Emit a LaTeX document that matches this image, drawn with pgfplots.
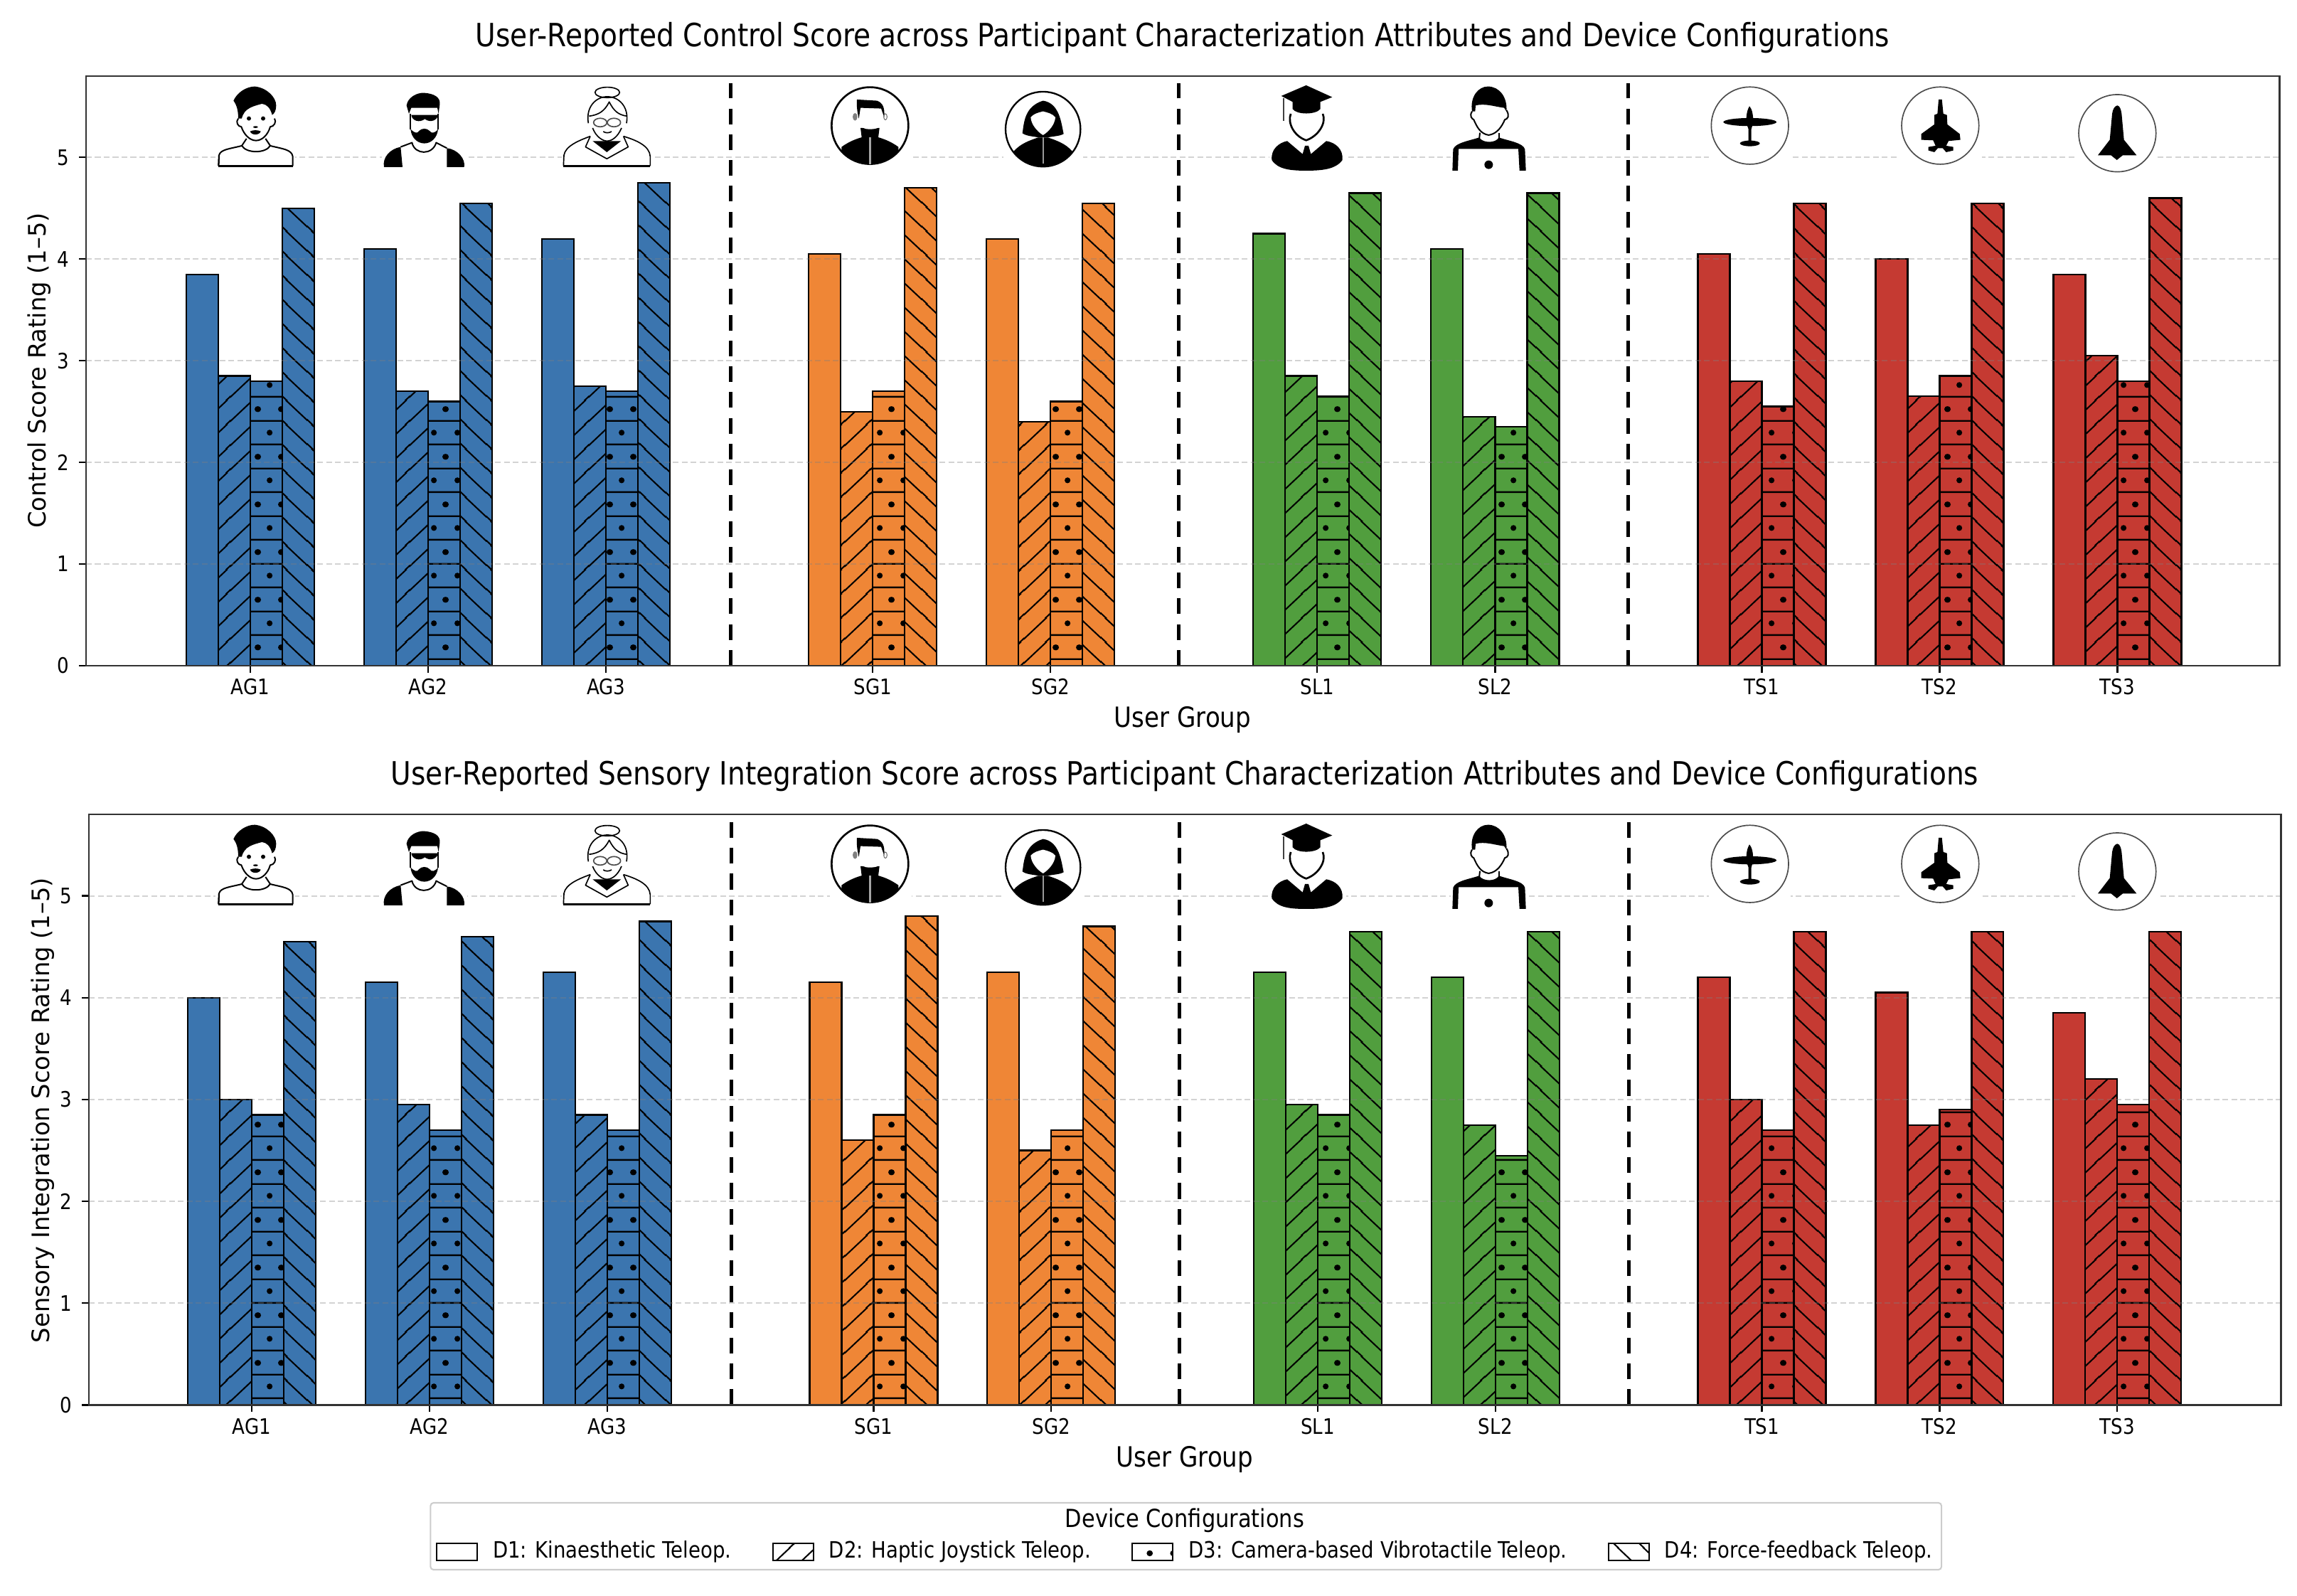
\documentclass[border=0pt]{standalone}
\usepackage{fontspec}
\usepackage{pgfplots}
\usepackage{pgfplotstable}
\pgfplotsset{compat=1.18}
\usetikzlibrary{patterns}
\setmainfont{DejaVu Sans}[FakeStretch=0.87]
\newfontfamily\yfont{DejaVu Sans}

% one picture pixel of the reference is 0.24pt
\definecolor{cblue}{HTML}{3B75AF}
\definecolor{corange}{HTML}{EF8636}
\definecolor{cgreen}{HTML}{519E3E}
\definecolor{cred}{HTML}{C53A32}

% hatches
\pgfdeclarepatternformonly{hd2}{\pgfpointorigin}{\pgfqpoint{8.64pt}{8.04pt}}{\pgfqpoint{8.64pt}{8.04pt}}{
  \pgfsetlinewidth{0.5pt}
  \pgfpathmoveto{\pgfqpoint{-1pt}{0.222pt}}\pgfpathlineto{\pgfqpoint{9.64pt}{10.122pt}}
  \pgfpathmoveto{\pgfqpoint{-1pt}{-7.818pt}}\pgfpathlineto{\pgfqpoint{9.64pt}{2.082pt}}
  \pgfusepath{stroke}}
\pgfdeclarepatternformonly{hd4}{\pgfpointorigin}{\pgfqpoint{8.64pt}{8.04pt}}{\pgfqpoint{8.64pt}{8.04pt}}{
  \pgfsetlinewidth{0.5pt}
  \pgfpathmoveto{\pgfqpoint{-1pt}{2.61pt}}\pgfpathlineto{\pgfqpoint{9.64pt}{-7.29pt}}
  \pgfpathmoveto{\pgfqpoint{-1pt}{10.65pt}}\pgfpathlineto{\pgfqpoint{9.64pt}{0.75pt}}
  \pgfusepath{stroke}}
\pgfdeclarepatternformonly{hd3}{\pgfpointorigin}{\pgfqpoint{7.92pt}{16.08pt}}{\pgfqpoint{7.92pt}{16.08pt}}{
  \pgfsetlinewidth{0.6pt}
  \pgfpathmoveto{\pgfqpoint{-1pt}{2.472pt}}\pgfpathlineto{\pgfqpoint{9pt}{2.472pt}}
  \pgfpathmoveto{\pgfqpoint{-1pt}{10.512pt}}\pgfpathlineto{\pgfqpoint{9pt}{10.512pt}}
  \pgfusepath{stroke}
  \pgfpathcircle{\pgfqpoint{3.984pt}{6.48pt}}{1pt}
  \pgfpathcircle{\pgfqpoint{0pt}{14.52pt}}{1pt}
  \pgfpathcircle{\pgfqpoint{7.92pt}{14.52pt}}{1pt}
  \pgfusepath{fill}}

% control score
\pgfplotstableread{
x d1 d2 d3 d4
0 3.85 2.85 2.80 4.50
1 4.10 2.70 2.60 4.55
2 4.20 2.75 2.70 4.75
}\cA
\pgfplotstableread{
x d1 d2 d3 d4
3.5 4.05 2.50 2.70 4.70
4.5 4.20 2.40 2.60 4.55
}\cS
\pgfplotstableread{
x d1 d2 d3 d4
6 4.25 2.85 2.65 4.65
7 4.10 2.45 2.35 4.65
}\cL
\pgfplotstableread{
x d1 d2 d3 d4
8.5 4.05 2.80 2.55 4.55
9.5 4.00 2.65 2.85 4.55
10.5 3.85 3.05 2.80 4.60
}\cT
% sensory integration score
\pgfplotstableread{
x d1 d2 d3 d4
0 4.00 3.00 2.85 4.55
1 4.15 2.95 2.70 4.60
2 4.25 2.85 2.70 4.75
}\sA
\pgfplotstableread{
x d1 d2 d3 d4
3.5 4.15 2.60 2.85 4.80
4.5 4.25 2.50 2.70 4.70
}\sS
\pgfplotstableread{
x d1 d2 d3 d4
6 4.25 2.95 2.85 4.65
7 4.20 2.75 2.45 4.65
}\sL
\pgfplotstableread{
x d1 d2 d3 d4
8.5 4.20 3.00 2.70 4.65
9.5 4.05 2.75 2.90 4.65
10.5 3.85 3.20 2.95 4.65
}\sT

\pgfplotsset{
  chart/.style={
    scale only axis, axis on top,
    ymin=0, ymax=5.8, tick pos=left,
    tick align=outside, major tick length=2.3pt,
    every tick/.style={black, line width=0.55pt},
    axis line style={line width=0.7pt, black!80},
    xtick={0,1,2,3.5,4.5,6,7,8.5,9.5,10.5},
    xticklabels={AG1,AG2,AG3,SG1,SG2,SL1,SL2,TS1,TS2,TS3},
    ytick={0,1,2,3,4,5},
    /pgf/number format/assume math mode=true,
    tick label style={font=\fontsize{7.2}{8}\selectfont},
    xticklabel style={yshift=1.4pt},
    ymajorgrids,
    grid style={gray, opacity=0.35, line width=0.45pt, dash pattern=on 2pt off 1pt},
    every axis title shift=0pt,
    title style={at={(axis description cs:0.5,1.0645)}, anchor=center, font=\fontsize{10.8}{12}\selectfont},
    xlabel style={at={(axis description cs:0.5,-0.092)}, anchor=center, font=\fontsize{9.4}{11}\selectfont},
    ylabel style={anchor=center, font=\yfont\fontsize{8.1}{10}\selectfont},
  },
  bars/.style={ybar, bar width=0.18, forget plot, draw=black, line width=0.55pt},
  sep/.style={black, line width=1.2pt, dash pattern=on 5.3pt off 3.4pt, forget plot},
  legend image code/.code={\draw[#1] (0pt,-2.9pt) rectangle (13.7pt,2.9pt);},
}

\newcommand{\groupbars}[2]{%
  \addplot[bars, fill=#2, bar shift=-0.27] table[x=x, y=d1] {#1};
  \addplot[bars, fill=#2, bar shift=-0.09, postaction={pattern=hd2, pattern color=black}] table[x=x, y=d2] {#1};
  \addplot[bars, fill=#2, bar shift=0.09, postaction={pattern=hd3, pattern color=black}] table[x=x, y=d3] {#1};
  \addplot[bars, fill=#2, bar shift=0.27, postaction={pattern=hd4, pattern color=black}] table[x=x, y=d4] {#1};
}
\newcommand{\separators}{%
  \addplot[sep] coordinates {(2.70,0) (2.70,5.73)};
  \addplot[sep] coordinates {(5.22,0) (5.22,5.73)};
  \addplot[sep] coordinates {(7.75,0) (7.75,5.73)};
}

% icon sketches, coordinates are those of a 3x crop of the reference
\newcommand{\iconsA}{%
  \fill[white] (10,20) rectangle (345,385);
  \fill[white] (710,20) rectangle (1070,385);
  \begin{scope}[line width=0.48pt, black, line join=round]
    \draw (22,370) -- (24,325) .. controls (30,300) and (70,298) .. (120,285) -- (140,255);
    \draw (240,285) -- (220,255);
    \draw (240,285) .. controls (290,298) and (330,300) .. (335,330) -- (335,370);
    \draw (22,370) -- (24,325);
    \draw[line width=0.72pt] (22,370) -- (335,370);
    \draw (120,285) .. controls (140,318) and (220,318) .. (240,285);
    \draw (105,170) .. controls (92,185) and (105,205) .. (118,205) .. controls (130,240) and (155,263) .. (180,263)
       .. controls (205,263) and (230,240) .. (240,205) .. controls (255,205) and (268,185) .. (258,170);
    \fill (105,170) .. controls (105,140) and (100,115) .. (85,95) .. controls (100,60) and (140,35) .. (175,35)
       .. controls (225,40) and (265,80) .. (265,115) .. controls (265,135) and (258,150) .. (248,155)
       .. controls (240,125) and (225,110) .. (205,108) .. controls (170,118) and (130,125) .. (120,170) -- cycle;
    \fill (150,170) ellipse (9 and 9);
    \fill (210,170) ellipse (9 and 9);
    \fill (178,206) ellipse (10 and 4);
    \fill (155,224) .. controls (170,218) and (185,218) .. (200,224) .. controls (195,242) and (160,242) .. (155,224);
    % bearded man
    \fill (720,375) .. controls (712,335) and (745,298) .. (790,290) -- (798,375) -- cycle;
    \fill (985,295) .. controls (1030,300) and (1065,340) .. (1058,375) -- (985,375) -- cycle;
    \draw (790,290) -- (838,272) .. controls (850,325) and (925,325) .. (940,272) -- (985,295);
    \fill (815,115) .. controls (820,80) and (860,60) .. (890,62) .. controls (930,65) and (960,80) .. (955,112)
      -- (950,150) -- (945,125) -- (835,125) -- (825,150) -- cycle;
    \draw (832,150) -- (832,215); \draw (948,150) -- (948,215);
    \fill (835,155) -- (948,155) .. controls (945,178) and (915,190) .. (892,172) .. controls (870,190) and (838,180) .. (835,155) -- cycle;
    \fill (832,215) .. controls (850,232) and (860,235) .. (868,222) .. controls (880,210) and (900,210) .. (912,222)
       .. controls (920,235) and (935,232) .. (948,215) .. controls (945,250) and (920,275) .. (890,275)
       .. controls (860,275) and (835,250) .. (832,215) -- cycle;
  \end{scope}
}
\newcommand{\iconsB}{%
  \fill[white] (15,20) rectangle (395,385);
  \fill[white] (1145,20) rectangle (1490,385);
  \begin{scope}[line width=0.4pt, black, line join=round]
    \draw (22,370) -- (24,325) .. controls (30,285) and (90,262) .. (135,245);
    \draw (275,245) .. controls (330,262) and (385,285) .. (388,330) -- (388,370);
    \draw[line width=0.72pt] (22,370) -- (388,370);
    \fill (145,265) -- (265,265) -- (205,312) -- cycle;
    \draw (135,245) -- (115,290) -- (205,340) -- (295,290) -- (275,245);
    \draw (127,190) .. controls (115,120) and (160,78) .. (207,78) .. controls (255,78) and (300,120) .. (288,190);
    \draw (207,60) ellipse (52 and 22);
    \draw (130,160) .. controls (170,155) and (195,140) .. (215,100) .. controls (235,140) and (255,155) .. (290,160);
    \draw[black!70] (177,187) ellipse (28 and 18);
    \draw[black!70] (235,187) ellipse (28 and 18);
    \draw (145,210) .. controls (160,250) and (190,265) .. (205,265) .. controls (225,265) and (250,250) .. (267,210);
    \draw (190,225) .. controls (198,232) and (215,232) .. (225,225);
  \end{scope}
  \draw[black, line width=0.64pt] (1315,200) circle (162);
  \begin{scope}
    \clip (1315,200) circle (162);
    \fill (1195,290) .. controls (1230,265) and (1260,255) .. (1285,248) -- (1345,248)
      .. controls (1370,255) and (1400,265) .. (1435,290) -- (1435,380) -- (1195,380) -- cycle;
  \end{scope}
  \fill (1275,210) -- (1355,210) -- (1350,250) -- (1280,250) -- cycle;
  \fill[white] (1272,125) -- (1360,125) -- (1365,180) .. controls (1365,210) and (1340,215) .. (1315,215)
    .. controls (1290,215) and (1272,210) .. (1270,180) -- cycle;
  \fill (1260,90) -- (1345,95) .. controls (1370,105) and (1378,125) .. (1375,165) -- (1362,128) -- (1275,125) -- (1268,170) .. controls (1260,140) and (1258,110) .. (1260,90) -- cycle;
  \fill[black!50] (1252,163) ellipse (10 and 16);
  \draw[black!60, line width=0.24pt] (1380,163) ellipse (7 and 13);
  \draw[black!35, line width=0.8pt] (1315,250) -- (1315,362);
}
\newcommand{\iconsC}{%
  \fill[white] (18,20) rectangle (355,385);
  \fill[white] (1140,20) rectangle (1465,395);
  \draw[black, line width=0.56pt] (185,215) circle (158);
  \fill (98,232) .. controls (105,190) and (105,120) .. (185,95) .. controls (255,105) and (262,190) .. (272,235)
    .. controls (255,245) and (225,245) .. (205,250) -- (165,250) .. controls (145,245) and (115,245) .. (98,232) -- cycle;
  \begin{scope}
    \clip (185,215) circle (158);
    \fill (60,310) .. controls (90,275) and (130,262) .. (165,250) -- (205,250) .. controls (240,262) and (280,275) .. (310,310) -- (310,380) -- (60,380) -- cycle;
  \end{scope}
  \fill[white] (133,165) .. controls (145,150) and (165,145) .. (185,140) .. controls (205,145) and (225,150) .. (237,165)
    .. controls (235,195) and (210,225) .. (185,240) .. controls (160,225) and (135,195) .. (133,165) -- cycle;
  \draw[black!40, line width=0.4pt] (185,250) -- (185,360);
  % graduate
  \fill (1190,75) -- (1295,30) -- (1405,80) -- (1355,100) -- (1355,130) .. controls (1335,155) and (1255,155) .. (1238,130) -- (1238,100) -- cycle;
  \draw[black!75, line width=0.64pt] (1200,85) -- (1200,180);
  \draw[line width=0.64pt] (1230,150) .. controls (1215,190) and (1245,245) .. (1295,262) .. controls (1345,245) and (1382,190) .. (1365,150);
  \fill (1150,345) .. controls (1145,300) and (1180,272) .. (1215,265) -- (1280,320) -- (1290,285) -- (1305,285) -- (1315,320) -- (1380,265)
    .. controls (1420,272) and (1452,300) .. (1448,345) .. controls (1420,385) and (1360,390) .. (1295,390) .. controls (1230,390) and (1175,385) .. (1150,345) -- cycle;
}
\newcommand{\iconsD}{%
  \fill[white] (15,20) rectangle (335,395);
  \fill[white] (1105,20) rectangle (1450,385);
  \fill (105,140) .. controls (95,80) and (130,35) .. (172,35) .. controls (220,35) and (255,80) .. (250,140) -- (240,125) .. controls (200,120) and (160,105) .. (120,115) -- (118,140) -- cycle;
  \draw[line width=0.48pt] (105,140) .. controls (92,160) and (105,172) .. (112,175) .. controls (125,205) and (140,235) .. (175,240)
     .. controls (210,235) and (230,205) .. (243,175) .. controls (255,172) and (265,160) .. (250,135);
  \draw[line width=0.48pt] (138,230) -- (135,258); \draw[line width=0.48pt] (218,232) -- (218,258);
  \fill (22,390) -- (25,300) .. controls (35,272) and (90,265) .. (135,250) .. controls (150,275) and (205,275) .. (218,250)
    .. controls (260,265) and (320,272) .. (328,300) -- (332,390) -- (305,390) -- (300,298) -- (48,298) -- (45,390) -- cycle;
  \fill (175,365) circle (18);
  % propeller plane
  \draw[black!70, line width=0.4pt] (1277,200) circle (163);
  \fill (1277,185) ellipse (112 and 17);
  \fill (1262,190) .. controls (1260,150) and (1268,130) .. (1275,118) .. controls (1285,130) and (1292,150) .. (1290,190) -- (1283,215) -- (1283,270) -- (1271,270) -- (1271,215) -- cycle;
  \fill (1277,275) ellipse (42 and 12);
}
\newcommand{\iconsE}{%
  \fill[white] (18,20) rectangle (365,385);
  \fill[white] (760,20) rectangle (1105,395);
  \draw[black!70, line width=0.4pt] (190,200) circle (163);
  \fill (183,90) -- (197,90) -- (203,150) -- (218,155) -- (220,195) -- (272,235) -- (275,260) -- (225,265) -- (215,285) -- (245,290) -- (245,305) -- (215,312) -- (200,295) -- (180,295) -- (165,312) -- (140,305) -- (140,290) -- (170,285) -- (160,262) -- (110,260) -- (110,235) -- (165,195) -- (165,155) -- (178,150) -- cycle;
  \draw[black!70, line width=0.4pt] (937,232) circle (163);
  \fill (937,115) .. controls (925,118) and (918,130) .. (915,150) -- (905,260) -- (855,325) -- (910,325) -- (935,345) -- (960,325) -- (1018,325) -- (965,260) -- (955,150) .. controls (952,130) and (948,118) .. (937,115) -- cycle;
}
% #1 is the vertical offset of the row of icons, in reference pixels
\newcommand{\iconrow}[1]{%
  \begin{scope}[xshift=72pt, yshift={(2133-#1)*0.24pt}, x=0.08pt, y=-0.08pt]\iconsA\end{scope}
  \begin{scope}[xshift=188.4pt, yshift={(2133-#1)*0.24pt}, x=0.08pt, y=-0.08pt]\iconsB\end{scope}
  \begin{scope}[xshift=337.2pt, yshift={(2133-#1)*0.24pt}, x=0.08pt, y=-0.08pt]\iconsC\end{scope}
  \begin{scope}[xshift=488.4pt, yshift={(2133-#1)*0.24pt}, x=0.08pt, y=-0.08pt]\iconsD\end{scope}
  \begin{scope}[xshift=639.6pt, yshift={(2133-#1)*0.24pt}, x=0.08pt, y=-0.08pt]\iconsE\end{scope}
}

\begin{document}
\begin{tikzpicture}
\useasboundingbox (0pt,0pt) rectangle (775.2pt,538.32pt);

\begin{axis}[chart, at={(29.04pt,313.68pt)}, anchor=south west,
    width=740.16pt, height=198.96pt, xmin=-0.924, xmax=11.41,
    title={User-Reported Control Score across Participant Characterization Attributes and Device Configurations},
    xlabel={User Group},
    ylabel={Control Score Rating (1–5)},
    ylabel style={at={(axis description cs:-0.0214,0.5006)}},
  ]
  \groupbars{\cA}{cblue}
  \groupbars{\cS}{corange}
  \groupbars{\cL}{cgreen}
  \groupbars{\cT}{cred}
  \separators
\end{axis}
\iconrow{0}

% legend frame and title
\draw[black!20, line width=0.5pt, rounded corners=1pt] (145.3pt,8.64pt) rectangle (655.2pt,31.2pt);
\node[font=\fontsize{8.4}{9}\selectfont] at (399.84pt,25.2pt) {Device Configurations};

\begin{axis}[chart, at={(30pt,64.2pt)}, anchor=south west,
    width=739.68pt, height=199.32pt, xmin=-0.917, xmax=11.42,
    title={User-Reported Sensory Integration Score across Participant Characterization Attributes and Device Configurations},
    xlabel={User Group},
    ylabel={Sensory Integration Score Rating (1–5)},
    ylabel style={at={(axis description cs:-0.0211,0.499)}},
    legend columns=4,
    legend style={at={(axis description cs:0.501,-0.2485)}, anchor=center, draw=none, fill=none,
      font=\fontsize{7.6}{9}\selectfont, inner sep=0pt,
      /tikz/every odd column/.append style={column sep=3.1pt},
      /tikz/every even column/.append style={column sep=11.7pt}},
  ]
  \groupbars{\sA}{cblue}
  \groupbars{\sS}{corange}
  \groupbars{\sL}{cgreen}
  \groupbars{\sT}{cred}
  \separators
  \addlegendimage{fill=white, draw=black, line width=0.5pt}
  \addlegendentry{D1: Kinaesthetic Teleop.}
  \addlegendimage{fill=white, draw=black, line width=0.5pt, postaction={pattern=hd2, pattern color=black}}
  \addlegendentry{D2: Haptic Joystick Teleop.}
  \addlegendimage{fill=white, draw=black, line width=0.5pt, postaction={pattern=hd3, pattern color=black}}
  \addlegendentry{D3: Camera-based Vibrotactile Teleop.}
  \addlegendimage{fill=white, draw=black, line width=0.5pt, postaction={pattern=hd4, pattern color=black}}
  \addlegendentry{D4: Force-feedback Teleop.}
\end{axis}
\iconrow{1038}
\end{tikzpicture}
\end{document}
